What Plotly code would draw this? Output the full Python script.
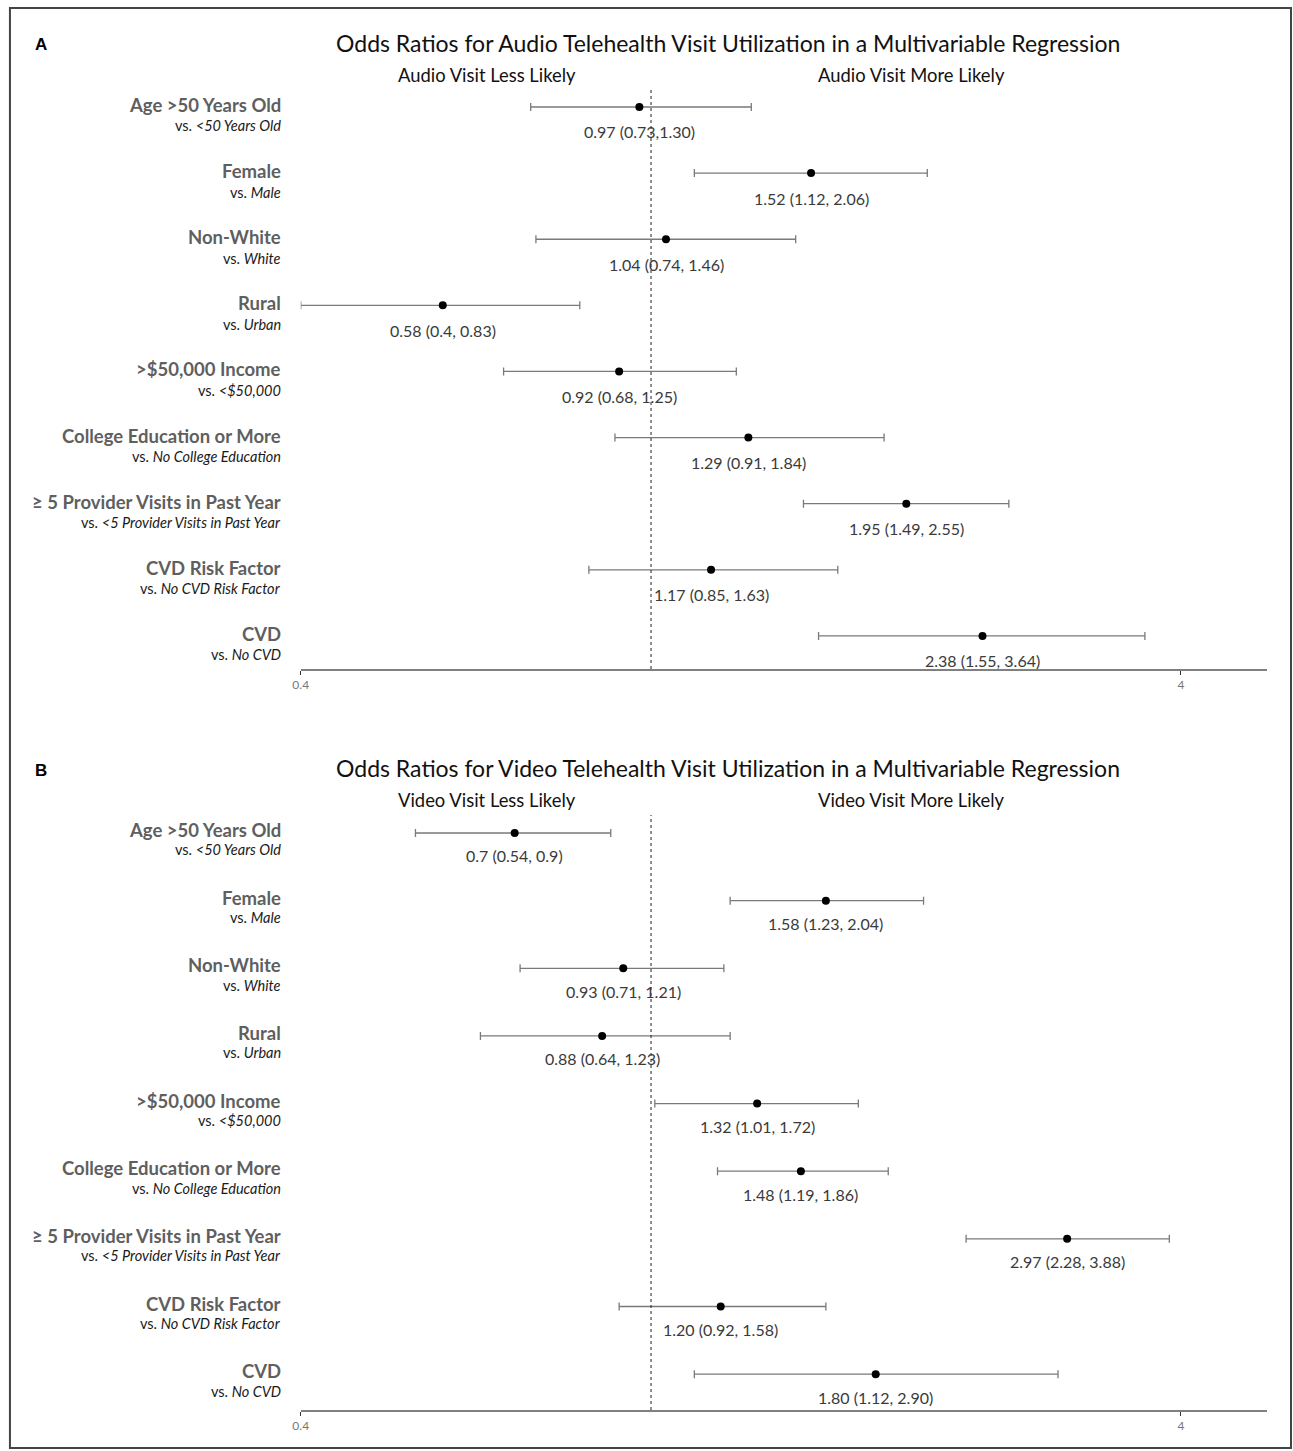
import math
import plotly.graph_objects as go

# ---------------- data ----------------
main_labels = ["Age >50 Years Old", "Female", "Non-White", "Rural", ">$50,000 Income",
               "College Education or More", "≥ 5 Provider Visits in Past Year",
               "CVD Risk Factor", "CVD"]
ref_labels = ["&lt;50 Years Old", "Male", "White", "Urban", "&lt;$50,000",
              "No College Education", "&lt;5 Provider Visits in Past Year",
              "No CVD Risk Factor", "No CVD"]

audio_or = [0.97, 1.52, 1.04, 0.58, 0.92, 1.29, 1.95, 1.17, 2.38]
audio_lo = [0.73, 1.12, 0.74, 0.40, 0.68, 0.91, 1.49, 0.85, 1.55]
audio_hi = [1.30, 2.06, 1.46, 0.83, 1.25, 1.84, 2.55, 1.63, 3.64]
audio_txt = ["0.97 (0.73,1.30)", "1.52 (1.12, 2.06)", "1.04 (0.74, 1.46)", "0.58 (0.4, 0.83)",
             "0.92 (0.68, 1.25)", "1.29 (0.91, 1.84)", "1.95 (1.49, 2.55)", "1.17 (0.85, 1.63)",
             "2.38 (1.55, 3.64)"]

video_or = [0.70, 1.58, 0.93, 0.88, 1.32, 1.48, 2.97, 1.20, 1.80]
video_lo = [0.54, 1.23, 0.71, 0.64, 1.01, 1.19, 2.28, 0.92, 1.12]
video_hi = [0.90, 2.04, 1.21, 1.23, 1.72, 1.86, 3.88, 1.58, 2.90]
video_txt = ["0.7 (0.54, 0.9)", "1.58 (1.23, 2.04)", "0.93 (0.71, 1.21)", "0.88 (0.64, 1.23)",
             "1.32 (1.01, 1.72)", "1.48 (1.19, 1.86)", "2.97 (2.28, 3.88)", "1.20 (0.92, 1.58)",
             "1.80 (1.12, 2.90)"]

tick_vals = [0.4, 4]
tick_text = ["0.4", "4"]
x_range = [0.4, 5.01]

titles = ["Odds Ratios for Audio Telehealth Visit Utilization in a Multivariable Regression",
          "Odds Ratios for Video Telehealth Visit Utilization in a Multivariable Regression"]
less_txt = ["Audio Visit Less Likely", "Video Visit Less Likely"]
more_txt = ["Audio Visit More Likely", "Video Visit More Likely"]
panel_letters = ["A", "B"]

# ---------------- layout helpers ----------------
W, H = 1293, 1451
FONT = "Lato"

def px_x(p):
    # small correction for the horizontal offset observed in the rendered page
    return ((p - 7.05) / 0.99454) / W

def px_y(p):
    return 1 - p / H

rows = list(range(len(main_labels)))

fig = go.Figure()

panels = [
    dict(ors=audio_or, lo=audio_lo, hi=audio_hi, txt=audio_txt, xa="x", ya="y",
         dom=[px_y(669), px_y(90)], yrange=[8.5, -0.257], title_y=43, sub_y=75, letter_y=45,
         main_up=2, sub_off=19, val_off=25),
    dict(ors=video_or, lo=video_lo, hi=video_hi, txt=video_txt, xa="x2", ya="y2",
         dom=[px_y(1410), px_y(815)], yrange=[8.53, -0.266], title_y=768, sub_y=800, letter_y=770,
         main_up=3, sub_off=17, val_off=23),
]

annotations = []
shapes = []
for k, p in enumerate(panels):
    fig.add_trace(go.Scatter(
        x=p["ors"], y=rows, mode="markers", xaxis=p["xa"], yaxis=p["ya"],
        marker=dict(color="black", size=8),
        error_x=dict(type="data", symmetric=False,
                     array=[h - o for h, o in zip(p["hi"], p["ors"])],
                     arrayminus=[o - l for o, l in zip(p["ors"], p["lo"])],
                     color="#7a7a7a", thickness=1.3, width=4),
        showlegend=False, hoverinfo="skip"))
    for i in rows:
        annotations.append(dict(x=math.log10(p["ors"][i]), y=i, xref=p["xa"], yref=p["ya"],
                                text=p["txt"][i], showarrow=False, yshift=-p["val_off"],
                                font=dict(family=FONT, size=16, color="#3a3a3a")))
        annotations.append(dict(x=px_x(282), y=i, xref="paper", yref=p["ya"],
                                text="<b>" + main_labels[i] + "</b>", showarrow=False,
                                xanchor="right", yanchor="middle", yshift=p["main_up"],
                                font=dict(family=FONT, size=18.5, color="#5f5f5f")))
        annotations.append(dict(x=px_x(282), y=i, xref="paper", yref=p["ya"],
                                text="vs. <i>" + ref_labels[i] + "</i>", showarrow=False,
                                xanchor="right", yanchor="middle", yshift=-p["sub_off"],
                                font=dict(family=FONT, size=14.5, color="#1a1a1a")))
    annotations.append(dict(x=px_x(728), y=px_y(p["title_y"]), xref="paper", yref="paper",
                            text=titles[k], showarrow=False, xanchor="center", yanchor="middle",
                            font=dict(family=FONT, size=23, color="#111111")))
    annotations.append(dict(x=px_x(486), y=px_y(p["sub_y"]), xref="paper", yref="paper",
                            text=less_txt[k], showarrow=False, xanchor="center", yanchor="middle",
                            font=dict(family=FONT, size=18.4, color="#111111")))
    annotations.append(dict(x=px_x(911), y=px_y(p["sub_y"]), xref="paper", yref="paper",
                            text=more_txt[k], showarrow=False, xanchor="center", yanchor="middle",
                            font=dict(family=FONT, size=18.4, color="#111111")))
    annotations.append(dict(x=px_x(40), y=px_y(p["letter_y"]), xref="paper", yref="paper",
                            text="<b>" + panel_letters[k] + "</b>", showarrow=False,
                            xanchor="center", yanchor="middle",
                            font=dict(family="Liberation Sans", size=17, color="#000000")))
    shapes.append(dict(type="line", xref=p["xa"], yref=p["ya"] + " domain",
                       x0=1, x1=1, y0=0, y1=1,
                       line=dict(color="#222222", width=1, dash="dot")))

# outer frame
shapes.append(dict(type="rect", xref="paper", yref="paper",
                   x0=px_x(9), x1=px_x(1291), y0=px_y(1448), y1=px_y(8),
                   line=dict(color="#444444", width=2)))

xaxis_common = dict(type="log", range=[math.log10(x_range[0]), math.log10(x_range[1])],
                    domain=[px_x(300), px_x(1267)], showgrid=False, zeroline=False,
                    showline=True, linecolor="#808080", linewidth=2,
                    tickvals=tick_vals, ticktext=tick_text, ticks="outside", ticklen=4,
                    tickcolor="#333333", tickwidth=1,
                    tickfont=dict(family=FONT, size=12, color="#777777"))
yaxis_common = dict(visible=False, showgrid=False, zeroline=False)

fig.update_layout(
    width=W, height=H, autosize=False, margin=dict(l=0, r=0, t=0, b=0),
    paper_bgcolor="white", plot_bgcolor="white",
    xaxis=dict(xaxis_common, anchor="y"),
    xaxis2=dict(xaxis_common, anchor="y2"),
    yaxis=dict(yaxis_common, domain=panels[0]["dom"], range=panels[0]["yrange"], anchor="x"),
    yaxis2=dict(yaxis_common, domain=panels[1]["dom"], range=panels[1]["yrange"], anchor="x2"),
    annotations=annotations, shapes=shapes,
)

post = (
    "var de=document.documentElement;de.style.margin='0';de.style.padding='0';"
    "de.style.overflow='hidden';"
    "document.body.style.margin='0';document.body.style.padding='0';"
    "document.body.style.overflow='hidden';"
    "var gd=document.getElementById('{plot_id}');gd.style.position='absolute';"
    "gd.style.left='0px';gd.style.top='0px';"
)

fig.write_html("out.html",
               config={"responsive": False, "displayModeBar": False},
               post_script=post)
